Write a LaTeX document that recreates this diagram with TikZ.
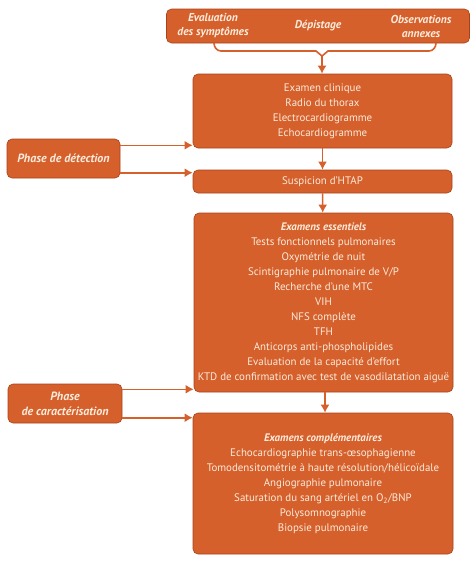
\documentclass[tikz,border=0pt]{standalone}
\usepackage{fontspec}
\setmainfont{PT Sans}
\usetikzlibrary{arrows.meta}
\definecolor{htorange}{HTML}{D5602B}
\definecolor{htdark}{HTML}{A9421C}
\definecolor{httext}{HTML}{FBEBDC}

\begin{document}
\begin{tikzpicture}[
        x=1pt, y=-1pt,
        every node/.style={align=center, font=\fontsize{10.9}{15}\selectfont, text=httext, inner sep=0pt},
        box/.style={draw=htdark, fill=htorange, rounded corners=5pt, line width=0.6pt},
        phase/.style={box, font=\fontsize{12}{15}\selectfont\bfseries\itshape},
        toplabel/.style={font=\fontsize{11.5}{14}\selectfont\bfseries\itshape},
        arr/.style={draw=htorange, line width=1.6pt, -{Latex[length=8pt,width=9pt]}}
    ]
    \useasboundingbox (0,0) rectangle (475,563);

    % haut
    \node[box, minimum width=303, minimum height=34] (top) at (318,26) {};
    \node[toplabel] (eval) at (213,26) {Evaluation\\des symptômes};
    \node[toplabel] (dep) at (318,26) {Dépistage};
    \node[toplabel] (obs) at (421,26) {Observations\\annexes};
    \draw[htorange, line width=1.6pt] (214,43) to[out=-90, in=180] (221,51) -- (316,51) -- (322,56) coordinate (brk) -- (328,51) -- (429,51) to[out=0, in=-90] (436,43);

    % colonne centrale
    \node[box, minimum width=259, minimum height=74] (exam) at (322.5,111) {Examen clinique\\Radio du thorax\\Electrocardiogramme\\Echocardiogramme};
    \node[box, minimum width=259, minimum height=23] (susp) at (322.5,181.5) {Suspicion d'HTAP};
    \node[box, minimum width=259, minimum height=179] (ess) at (323.5,302.5) {\textbf{\textit{Examens essentiels}}\\Tests fonctionnels pulmonaires\\Oxymétrie de nuit\\Scintigraphie pulmonaire de V/P\\Recherche d'une MTC\\VIH\\NFS complète\\TFH\\Anticorps anti-phospholipides\\Evaluation de la capacité d'effort\\KTD de confirmation avec test de vasodilatation aiguë};
    \node[box, minimum width=260, minimum height=141] (comp) at (323,483.5) {\textbf{\textit{Examens complémentaires}}\\Echocardiographie trans-œsophagienne\\Tomodensitométrie à haute résolution/hélicoïdale\\Angiographie pulmonaire\\Saturation du sang artériel en O\textsubscript{2}/BNP\\Polysomnographie\\Biopsie pulmonaire};

    % phases
    \node[phase, minimum width=113, minimum height=39] (det) at (63.5,158.5) {Phase de détection};
    \node[phase, minimum width=114, minimum height=39] (car) at (65,403.5) {Phase\\de caractérisation};

    \draw[arr] (brk) -- (exam.north -| brk);
    \draw[arr] (exam) -- (susp);
    \draw[arr] (susp) -- (ess);
    \draw[arr] (ess.south -| 325,0) -- (comp.north -| 325,0);

    \coordinate (d1) at ([yshift=3pt]exam.south west);
    \coordinate (d2) at ([yshift=-3pt]susp.north west);
    \coordinate (c1) at ([yshift=3pt]ess.south west);
    \coordinate (c2) at ([yshift=-5pt]comp.north west);
    \draw[arr] (det.east |- d1) -- (d1);
    \draw[arr] (det.east |- d2) -- (d2);
    \draw[arr] (car.east |- c1) -- (c1);
    \draw[arr] (car.east |- c2) -- (c2);
\end{tikzpicture}
\end{document}
